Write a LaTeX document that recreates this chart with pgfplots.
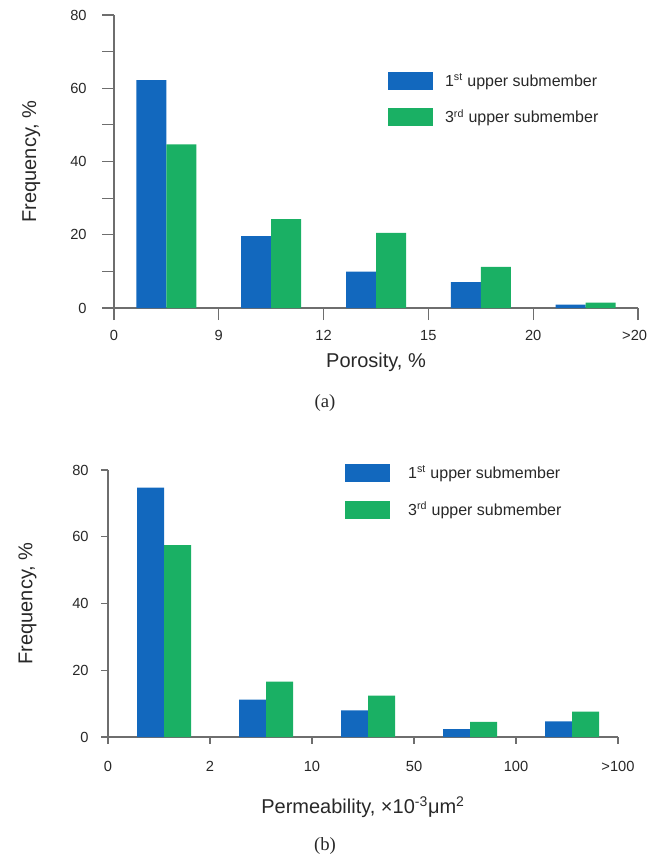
\documentclass[border=0pt]{standalone}
\usepackage{fontspec}
\setmainfont{Liberation Sans}
\newfontfamily\capfont{Liberation Serif}
\usepackage{pgfplots}
\usepackage{pgfplotstable}
\pgfplotsset{compat=1.18}

\definecolor{barblue}{RGB}{18,104,190}
\definecolor{bargreen}{RGB}{26,176,100}
\definecolor{axisgray}{RGB}{110,110,110}
\definecolor{textgray}{RGB}{40,40,40}

% Porosity classes: first and third upper submember
\pgfplotstableread{
x    first third
0.5  62.2  44.7
1.5  19.6  24.3
2.5   9.9  20.5
3.5   7.1  11.2
4.5   0.9   1.5
}\porosity

% Permeability classes
\pgfplotstableread{
x     first third
0.55  74.7  57.5
1.55  11.2  16.6
2.55   8.0  12.4
3.55   2.4   4.5
4.55   4.7   7.6
}\permeability

\pgfplotsset{
  histbase/.style={
    scale only axis,
    anchor=south west,
    xmin=0, xmax=5, ymin=0, ymax=80,
    axis x line*=bottom, axis y line*=left,
    axis line style={axisgray, line width=0.9pt},
    every tick/.style={axisgray, line width=0.9pt},
    tick align=outside,
    xtick={0,...,5},
    /pgf/number format/assume math mode=true,
    tick label style={textgray, font=\fontsize{11}{13}\selectfont},
    label style={textgray, font=\fontsize{15}{18}\selectfont},
    ybar=0pt,
    legend cell align=left,
    legend style={draw=none, fill=none, inner sep=0pt, outer sep=0pt,
      font=\fontsize{12}{14}\selectfont, text=textgray,
      nodes={inner sep=0pt}},
    legend image code/.code={\fill[##1] (0pt,-6.6pt) rectangle (33.75pt,6.6pt);},
  },
}

\begin{document}
\begin{tikzpicture}
\useasboundingbox (0pt,0pt) rectangle (486.75pt,-642pt);

\begin{axis}[histbase,
  at={(85.5pt,-231pt)},
  width=393pt, height=219.75pt,
  bar width=22.5pt,
  major tick length=9pt,
  ytick={0,10,...,80},
  yticklabels={0,,20,,40,,60,,80},
  xticklabels={0,9,12,15,20,{\hspace*{-5pt}>20}},
  yticklabel style={xshift=-8pt},
  xticklabel style={yshift=-4pt},
  xlabel={Porosity, \%},
  ylabel={Frequency, \%},
  xlabel style={at={(axis description cs:0.5,-0.184)}, anchor=center},
  ylabel style={at={(axis description cs:-0.158,0.5)}, anchor=center},
  legend style={at={(axis description cs:0.523,0.805)}, anchor=north west,
    row sep=14pt, /tikz/every odd column/.append style={column sep=9pt}},
]
\addplot[fill=barblue, draw=none] table[x=x, y=first] {\porosity};
\addplot[fill=bargreen, draw=none] table[x=x, y=third] {\porosity};
\legend{1\textsuperscript{st} upper submember, 3\textsuperscript{rd} upper submember}
\end{axis}

\node[font=\capfont\fontsize{14}{16}\selectfont, textgray] at (243.75pt,-302.25pt) {(a)};

\begin{axis}[histbase,
  at={(81pt,-552.75pt)},
  width=382.5pt, height=200.25pt,
  bar width=20.25pt,
  major tick length=5pt,
  ytick={0,20,...,80},
  xticklabels={0,2,10,50,100,{>100}},
  yticklabel style={xshift=-6pt},
  xticklabel style={yshift=-10pt},
  xlabel={Permeability, ×10\textsuperscript{-3}μm\textsuperscript{2}},
  ylabel={Frequency, \%},
  xlabel style={at={(axis description cs:0.5,-0.262)}, anchor=center},
  ylabel style={at={(axis description cs:-0.158,0.5)}, anchor=center},
  legend style={at={(axis description cs:0.465,1.022)}, anchor=north west,
    row sep=14.5pt, /tikz/every odd column/.append style={column sep=13.5pt}},
]
\addplot[fill=barblue, draw=none] table[x=x, y=first] {\permeability};
\addplot[fill=bargreen, draw=none] table[x=x, y=third] {\permeability};
\legend{1\textsuperscript{st} upper submember, 3\textsuperscript{rd} upper submember}
\end{axis}

\node[font=\capfont\fontsize{14}{16}\selectfont, textgray] at (243.75pt,-634.5pt) {(b)};
\end{tikzpicture}
\end{document}
